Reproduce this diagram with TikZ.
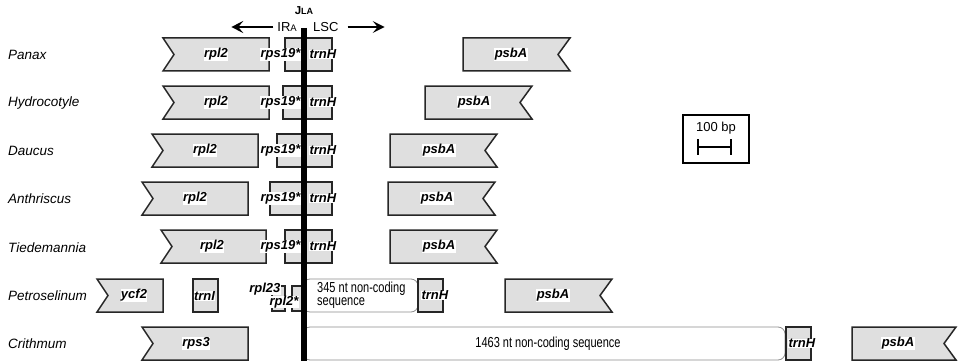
\documentclass[tikz,border=0pt]{standalone}
\usepackage{fontspec}
\setmainfont{Liberation Sans}
\newfontfamily\narrowfont{Liberation Sans}[FakeStretch=0.76]
\usepackage{tikz}
\usetikzlibrary{arrows.meta}
\tikzstyle{every node}=[font=\fontsize{13}{13}\selectfont]
\tikzstyle{gene}=[draw=black!85, line width=1.5pt, fill=gray!25]
\tikzstyle{genelabel}=[fill=white, inner sep=0.4pt, font=\fontsize{13}{13}\selectfont\bfseries\itshape]
\tikzstyle{taxon}=[anchor=west, inner sep=0pt, font=\fontsize{13.5}{14}\selectfont\itshape]
\tikzstyle{spacer}=[draw=black!45, line width=0.8pt, rounded corners=7pt, fill=white]
\tikzstyle{spacertext}=[inner sep=0pt, font=\narrowfont\fontsize{14.5}{13}\selectfont]
% gene blocks: left x, right x, top y
\newcommand{\geneL}[3]{\draw[gene] (#1,#3) -- (#2,#3) -- (#2,#3+33) -- (#1,#3+33) -- (#1+11,#3+16.5) -- cycle;}
\newcommand{\geneR}[3]{\draw[gene] (#1,#3) -- (#2,#3) -- (#2-12,#3+16.5) -- (#2,#3+33) -- (#1,#3+33) -- cycle;}
\newcommand{\geneB}[3]{\draw[gene] (#1,#3) rectangle (#2,#3+33);}

\begin{document}
\begin{tikzpicture}[x=1pt, y=-1pt, >={Stealth[length=12pt, width=12pt, inset=5pt]}]
\useasboundingbox (0,0) rectangle (958,361);

% taxa
\foreach \name [count=\i] in {Panax, Hydrocotyle, Daucus, Anthriscus, Tiedemannia, Petroselinum, Crithmum}
    \node[taxon] (taxon\i) at (8, {54.5+48.17*(\i-1)}) {\name};

% Panax
\geneL{163}{269}{38}
\geneB{285}{332}{38}
\geneR{463}{570}{38}
\node[genelabel] (panax-rpl2) at (216,54.5) {rpl2};
\node[genelabel, anchor=east] (panax-rps19) at (301,54.5) {rps19*};
\node[genelabel, anchor=west] (panax-trnH) at (309,54.5) {trnH};
\node[genelabel] (panax-psbA) at (511,54.5) {psbA};

% Hydrocotyle
\geneL{163}{269}{86}
\geneB{283}{332}{86}
\geneR{425}{532}{86}
\node[genelabel] (hydro-rpl2) at (216,102.5) {rpl2};
\node[genelabel, anchor=east] (hydro-rps19) at (301,102.5) {rps19*};
\node[genelabel, anchor=west] (hydro-trnH) at (309,102.5) {trnH};
\node[genelabel] (hydro-psbA) at (474,102.5) {psbA};

% Daucus
\geneL{152}{258}{134}
\geneB{277}{332}{134}
\geneR{390}{497}{134}
\node[genelabel] (daucus-rpl2) at (205,150.5) {rpl2};
\node[genelabel, anchor=east] (daucus-rps19) at (301,150.5) {rps19*};
\node[genelabel, anchor=west] (daucus-trnH) at (309,150.5) {trnH};
\node[genelabel] (daucus-psbA) at (439,150.5) {psbA};

% Anthriscus
\geneL{142}{248}{182}
\geneB{270}{332}{182}
\geneR{388}{495}{182}
\node[genelabel] (anthr-rpl2) at (195,198.5) {rpl2};
\node[genelabel, anchor=east] (anthr-rps19) at (301,198.5) {rps19*};
\node[genelabel, anchor=west] (anthr-trnH) at (309,198.5) {trnH};
\node[genelabel] (anthr-psbA) at (437,198.5) {psbA};

% Tiedemannia
\geneL{161}{266}{230}
\geneB{285}{332}{230}
\geneR{390}{497}{230}
\node[genelabel] (tied-rpl2) at (212,246.5) {rpl2};
\node[genelabel, anchor=east] (tied-rps19) at (301,246.5) {rps19*};
\node[genelabel, anchor=west] (tied-trnH) at (309,246.5) {trnH};
\node[genelabel] (tied-psbA) at (439,246.5) {psbA};

% Petroselinum
\geneL{97}{163}{279}
\geneB{193}{218}{279}
\draw[gene] (272,286) rectangle (285,311);
\draw[gene] (292,286) rectangle (304,311);
\draw[spacer] (303,279) rectangle (418,312);
\geneB{418}{443}{279}
\geneR{505}{612}{279}
\node[genelabel] (petro-ycf2) at (134,295.5) {ycf2};
\node[genelabel, anchor=west] (petro-trnI) at (193.5,296) {trnI};
\node[genelabel, anchor=east] (petro-rpl23) at (281,289) {rpl23};
\node[genelabel, anchor=east] (petro-rpl2) at (299,302) {rpl2*};
\node[spacertext, anchor=west, align=left] (petro-spacer) at (317,295.5) {345 nt non-coding\\sequence};
\node[genelabel, anchor=west] (petro-trnH) at (421,295.5) {trnH};
\node[genelabel] (petro-psbA) at (553,295.5) {psbA};

% Crithmum
\geneL{142}{248}{327}
\draw[spacer] (303,327) rectangle (785,360);
\geneB{786}{811}{327}
\geneR{852}{956}{327}
\node[genelabel] (crith-rps3) at (196,343.5) {rps3};
\node[spacertext] (crith-spacer) at (548,343.5) {1463 nt non-coding sequence};
\node[genelabel, anchor=west] (crith-trnH) at (788,343.5) {trnH};
\node[genelabel] (crith-psbA) at (898,343.5) {psbA};

% junction JLA
\draw[line width=5.5pt] (304,28) -- (304,361);
\node[font=\fontsize{11.5}{12}\selectfont\bfseries] (jla) at (304,11) {J{\fontsize{9}{9}\selectfont LA}};
\node[anchor=east, inner sep=0pt] (ira) at (297,27) {IR{\fontsize{9.5}{10}\selectfont A}};
\node[anchor=west, inner sep=0pt] (lsc) at (313,27) {LSC};
\draw[->, line width=1.4pt] ([xshift=-4pt]ira.west) -- ++(-42,0);
\draw[->, line width=1.4pt] ([xshift=9pt]lsc.east) -- ++(37,0);

% scale
\draw[line width=1.5pt] (683,115) rectangle (749,163);
\node (scale) at (716,128) {100 bp};
\draw[line width=1.5pt] (698,139) -- (698,155) (698,147) -- (731,147) (731,139) -- (731,155);
\end{tikzpicture}
\end{document}
